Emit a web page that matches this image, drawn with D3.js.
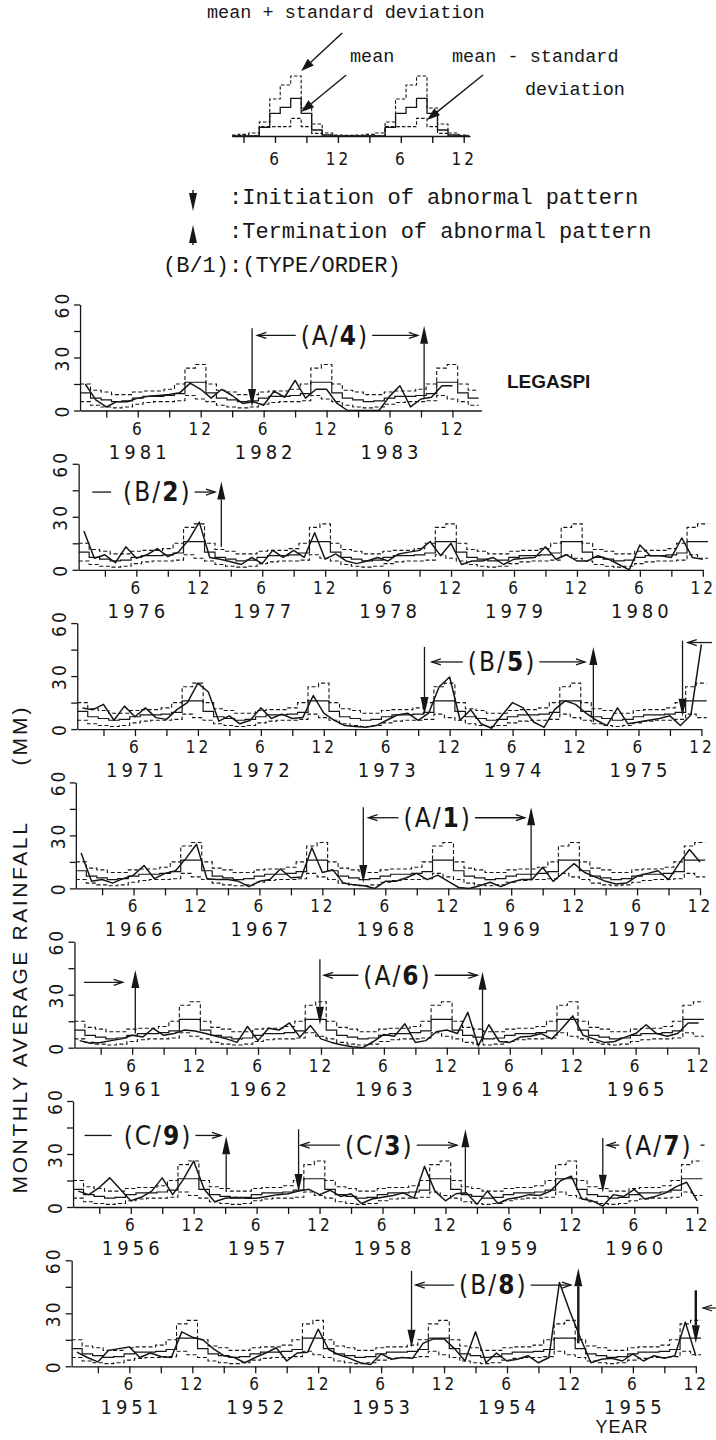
<!DOCTYPE html>
<html>
<head>
<meta charset="utf-8">
<script src="https://cdn.jsdelivr.net/npm/d3@7"></script>
<style>
  body { margin: 0; background: #fff; }
  svg { display: block; }
</style>
</head>
<body>
<script>
// monthly climatology (Jan..Dec), mm
var climMean  = [10, 7, 6, 5, 5.5, 7, 8, 8, 8.5, 9.5, 16, 16];
var climUpper = [15, 11.5, 10.5, 9, 9, 10.5, 11, 11, 12, 15, 24, 26];
var climLower = [5, 3, 2, 1.5, 2, 3.5, 4.5, 5, 5, 5.5, 8.5, 6.5];

// monthly rainfall, one array per strip
var rain1981 = [15, 6, 2, 5, 5, 7, 8, 8.5, 9, 10, 15.5, 12,
                7, 12, 8.5, 4, 5, 3, 11, 7.5, 17, 7, 12, 12,
                4, 0, 0, 0, 0, 8, 14, 2, 6.5, 7.5, 14, 14];
var rain1976 = [22, 6.5, 8.5, 4, 13, 6.5, 8.5, 12, 7.5, 10, 17, 27,
                7, 6, 4.5, 3, 7, 3.5, 11, 7, 11, 7, 21, 6,
                9, 5, 3.5, 5, 7, 5, 9, 10, 11, 16, 8, 15,
                3, 5, 5, 7, 3, 6, 6.5, 7, 13, 6, 8.5, 5,
                5, 8, 6, 3, 0, 14, 8, 8, 7, 18, 7, 6];
var rain1971 = [12, 11, 14, 5, 13, 7, 12, 6.5, 5.5, 11, 15, 26,
                21, 4.5, 7.5, 3, 5, 12, 6, 8.5, 6, 6.5, 19, 9,
                5, 2, 1.5, 1, 2, 5, 8, 9, 5, 9, 24, 29.5,
                5, 11, 3, 0.5, 8, 15, 12, 4, 1, 11, 16, 14,
                9, 5, 2, 12, 3, 4, 5, 6, 7.5, 2, 8, 48];
var rain1966 = [20, 4, 5, 3, 5.5, 7.5, 13, 5.5, 8.5, 10, 17, 25,
                5.5, 5, 5, 4, 1, 4, 5, 11, 6, 6.5, 23, 9,
                10.5, 3, 2, 1.5, 0, 4, 4, 6, 8.5, 5, 7.5, 4,
                0.5, 0, 1.5, 3.5, 1, 3.5, 5, 5, 12, 4, 9, 14,
                9, 6.5, 4, 2.5, 3, 7, 8.5, 10, 5, 14, 22, 15];
var rain1961 = [4, 2.5, 3, 4, 5, 7, 6, 11, 7, 8, 10, 9.5,
                8, 6.5, 5, 3, 12, 4, 11, 10, 14, 6, 12.5, 5,
                3, 1.5, 0.5, 0, 3.5, 7.5, 6.5, 13.5, 3, 4, 9, 10,
                8, 20, 1, 13, 3.5, 3, 6, 6.5, 8, 5, 11, 18,
                7, 5, 3, 3.5, 6, 8, 13, 8, 6.5, 8, 14, 14];
var rain1956 = [9, 7, 11, 16.5, 10, 3.5, 5.5, 9, 16.5, 7, 15.5, 26,
                10, 3, 5, 5.5, 5, 5, 6, 7, 7.5, 9, 10, 7,
                9.5, 6, 7.5, 2, 4.5, 5.5, 6.5, 8, 5, 23, 9, 3.5,
                7.5, 8, 1.5, 9, 2, 4.5, 5.5, 7, 6.5, 9, 15, 17.5,
                4.5, 3.5, 0.5, 7, 6, 10, 4.5, 6, 8, 11.5, 14, 3.5];
var rain1951 = [8, 5, 2.5, 9, 10, 11, 5, 7.5, 5.5, 5, 19.5, 16.5,
                15, 10, 6, 5, 2, 5, 7.5, 10.5, 3, 7.5, 8, 21,
                9.5, 6.5, 4.5, 2, 1, 7, 4, 5, 4.5, 13, 15.5, 15.5,
                10, 3, 19.5, 2, 7.5, 3, 4, 6, 2, 5, 47.5, 31,
                16, 2, 4, 4.5, 3, 7, 3, 6, 4.5, 6, 25, 6];

var stripYears = [1981, 1976, 1971, 1966, 1961, 1956, 1951];
var stripRain  = [rain1981, rain1976, rain1971, rain1966, rain1961, rain1956, rain1951];

// legend schematic (one season, months 1..12)
var legendUpper = [0.3, 0.5, 0.8, 1.5, 7, 18.5, 25.5, 30, 14, 6, 1.5, 0.5];
var legendMean  = [0, 0, 0, 0, 4.3, 11.3, 14.3, 18.8, 11.3, 3, 0.5, 0];
var legendLower = [0, 0, 0, 0, 4.7, 4.7, 4.7, 8.8, 4.7, 1.3, 0, 0];

// abnormal-pattern events: strip index, month (1 = Jan of first year), mm levels
var typeLabels = [
  {strip: 0, type: "A", order: 4, m: 24.8, v: 42.5, left: 17.4, right: 32.7, headL: true,  headR: true},
  {strip: 1, type: "B", order: 2, m: 8,    v: 44,   left: 1.8,  right: 13.5, headL: false, headR: true},
  {strip: 2, type: "B", order: 5, m: 41,   v: 38,   left: 34.3, right: 48.9, headL: true,  headR: true},
  {strip: 3, type: "A", order: 1, m: 35,   v: 40,   left: 28.4, right: 43.3, headL: true,  headR: true},
  {strip: 4, type: "A", order: 6, m: 31.3, v: 41,   left: 24.3, right: 38.9, headL: true,  headR: true},
  {strip: 5, type: "C", order: 9, m: 8.6,  v: 40.5, left: 1.6,  right: 14.6, headL: false, headR: true},
  {strip: 5, type: "C", order: 3, m: 29.7, v: 35,   left: 22.2, right: 37.1, headL: true,  headR: true},
  {strip: 5, type: "A", order: 7, m: 56.3, v: 35,   left: 51.4, right: 60.7, headL: true,  headR: false},
  {strip: 6, type: "B", order: 8, m: 40.7, v: 46,   left: 33.3, right: 48.1, headL: true,  headR: true}
];
var startArrows = [
  {strip: 0, m: 16.9, top: 46.5, tip: 2},
  {strip: 2, m: 33.6, top: 46.5, tip: 8},
  {strip: 2, m: 58.2, top: 50,   tip: 7},
  {strip: 3, m: 27.9, top: 46,   tip: 3},
  {strip: 4, m: 23.9, top: 50,   tip: 13},
  {strip: 5, m: 22.0, top: 44,   tip: 8.5},
  {strip: 5, m: 51.0, top: 39,   tip: 8},
  {strip: 6, m: 32.9, top: 54,   tip: 10.5},
  {strip: 6, m: 60.0, top: 43,   tip: 13, bold: true}
];
var endArrows = [
  {strip: 0, m: 33.3, base: 7,   tip: 48},
  {strip: 1, m: 14.1, base: 13,  tip: 50},
  {strip: 2, m: 49.7, base: 4,   tip: 46.5},
  {strip: 3, m: 43.9, base: 4.5, tip: 46},
  {strip: 4, m: 6.3,  base: 8,   tip: 44},
  {strip: 4, m: 39.4, base: 3,   tip: 43},
  {strip: 5, m: 15.1, base: 8.5, tip: 40},
  {strip: 5, m: 37.9, base: 8.5, tip: 44},
  {strip: 6, m: 48.8, base: 13,  tip: 55.5, bold: true}
];
var carryArrows = [
  {strip: 2, from: 61,   to: 58.7, v: 49},
  {strip: 4, from: 1.4,  to: 5.1,  v: 37},
  {strip: 6, from: 61.9, to: 60.7, v: 33}
];

var W = 716, H = 1440;
var ink = "#161616";
var monoFont = "'Liberation Mono','DejaVu Sans Mono',monospace";
var narrowFont = "'Liberation Sans Narrow','DejaVu Sans Condensed',sans-serif";
var sansFont = "'Liberation Sans',Arial,sans-serif";

var svg = d3.select("body").append("svg")
    .attr("width", W)
    .attr("height", H);

svg.append("rect").attr("width", W).attr("height", H).attr("fill", "#fff");

function vArrow(g, x, y0, y1, sw) {
  // y0 = tail, y1 = tip
  var dir = y1 > y0 ? 1 : -1, len = 18;
  g.append("line")
      .attr("x1", x).attr("x2", x)
      .attr("y1", y0).attr("y2", y1 - dir * len)
      .attr("stroke", ink).attr("stroke-width", sw || 1.3);
  g.append("path")
      .attr("d", "M" + x + "," + y1 + "L" + (x - 4) + "," + (y1 - dir * len) + "L" + (x + 4) + "," + (y1 - dir * len) + "Z")
      .attr("fill", ink);
}

function hArrow(g, xa, xb, yy, head) {
  g.append("line")
      .attr("x1", xa).attr("x2", xb)
      .attr("y1", yy).attr("y2", yy)
      .attr("stroke", ink).attr("stroke-width", 1.3);
  if (head) {
    var dir = xb > xa ? 1 : -1;
    g.append("polyline")
        .attr("points", [[xb - dir * 9, yy - 3], [xb, yy], [xb - dir * 9, yy + 3]].join(" "))
        .attr("fill", "none").attr("stroke", ink).attr("stroke-width", 1.3);
  }
}

function stepPoints(values, n, first) {
  var pts = [];
  for (var m = 1; m <= n; m++) pts.push([m === 1 ? first : m - 0.5, values[(m - 1) % 12]]);
  pts.push([n + 0.5, values[(n - 1) % 12]]);
  return pts;
}

// ---------- strips ----------
stripYears.forEach(function(year0, k) {
  var rain = stripRain[k];
  var base = 410.5 + k * 159.3;
  var left = 85.3 - 1.4 * k;
  var end = rain.length === 36 ? 38.75 : 60;
  var nClim = rain.length === 36 ? 38 : 60;

  var x = d3.scaleLinear().domain([0.5, end]).range([left - 5.25, left - 5.25 + (end - 0.5) * 10.49]);
  var y = d3.scaleLinear().domain([0, 60]).range([base, base - 106]);

  var g = svg.append("g");

  var line = d3.line().x(function(d) { return x(d[0]); }).y(function(d) { return y(d[1]); });
  var step = d3.line().x(function(d) { return x(d[0]); }).y(function(d) { return y(d[1]); }).curve(d3.curveStepAfter);

  [climUpper, climLower].forEach(function(c) {
    g.append("path")
        .attr("d", step(stepPoints(c, nClim, 0.5)))
        .attr("fill", "none").attr("stroke", ink)
        .attr("stroke-width", 1.1).attr("stroke-dasharray", "4,2.5");
  });
  g.append("path")
      .attr("d", step(stepPoints(climMean, nClim, 0.5)))
      .attr("fill", "none").attr("stroke", ink).attr("stroke-width", 1.2);

  g.append("path")
      .attr("d", line(rain.map(function(v, i) { return [i + 1, v]; })))
      .attr("fill", "none").attr("stroke", ink).attr("stroke-width", 1.5)
      .attr("stroke-linejoin", "round");

  // x axis
  var xAxis = d3.axisBottom(x)
      .tickValues(d3.range(3, end + 0.01, 3))
      .tickSizeInner(7).tickSizeOuter(0).tickPadding(5)
      .tickFormat(function(m) { return m % 12 === 6 ? "6" : (m % 12 === 0 ? "12" : ""); });
  var gx = g.append("g").attr("transform", "translate(0," + base + ")").call(xAxis);
  gx.selectAll("path, line").attr("stroke", ink).attr("stroke-width", 1.3);
  gx.selectAll("text")
      .attr("fill", ink)
      .style("font-family", narrowFont).style("font-size", "17px")
      .style("letter-spacing", "3px");

  // y axis
  var yAxis = d3.axisLeft(y).tickValues([0, 15, 30, 45, 60])
      .tickSizeInner(6).tickSizeOuter(0).tickFormat("");
  var gy = g.append("g").attr("transform", "translate(" + x(0.5) + ",0)").call(yAxis);
  gy.selectAll("path, line").attr("stroke", ink).attr("stroke-width", 1.3);

  [0, 30, 60].forEach(function(v) {
    g.append("text")
        .attr("transform", "translate(" + (x(0.5) - 18) + "," + y(v) + ") rotate(-90)")
        .attr("text-anchor", "middle").attr("dy", "0.35em")
        .attr("fill", ink)
        .style("font-family", narrowFont).style("font-size", "19px")
        .style("letter-spacing", "3px")
        .text(v);
  });

  // year labels
  d3.range(rain.length / 12).forEach(function(j) {
    g.append("text")
        .attr("x", x(j * 12 + 6) + 2).attr("y", base + 48)
        .attr("text-anchor", "middle").attr("fill", ink)
        .style("font-family", narrowFont).style("font-size", "20px")
        .style("letter-spacing", "4px")
        .text(year0 + j);
  });

  // annotations
  typeLabels.filter(function(d) { return d.strip === k; }).forEach(function(d) {
    var t = g.append("text")
        .attr("x", x(d.m)).attr("y", y(d.v)).attr("dy", "0.36em")
        .attr("text-anchor", "middle").attr("fill", ink)
        .style("font-family", narrowFont).style("font-size", "26px")
        .style("letter-spacing", "2px");
    t.append("tspan").text("(" + d.type + "/");
    t.append("tspan").style("font-weight", "bold").text(d.order);
    t.append("tspan").text(")");
    var bb = t.node().getBBox();
    hArrow(g, bb.x - (d.headL ? 5 : 12), x(d.left), y(d.v), d.headL);
    hArrow(g, bb.x + bb.width + (d.headR ? 3 : 8), x(d.right), y(d.v), d.headR);
  });
  startArrows.filter(function(d) { return d.strip === k; }).forEach(function(d) {
    vArrow(g, x(d.m), y(d.top), y(d.tip), d.bold ? 2.4 : 1.3);
  });
  endArrows.filter(function(d) { return d.strip === k; }).forEach(function(d) {
    vArrow(g, x(d.m), y(d.base), y(d.tip), d.bold ? 2.4 : 1.3);
  });
  carryArrows.filter(function(d) { return d.strip === k; }).forEach(function(d) {
    hArrow(g, x(d.from), x(d.to), y(d.v), true);
  });
});

// station name
svg.append("text")
    .attr("x", 507).attr("y", 388)
    .attr("fill", ink)
    .style("font-family", sansFont).style("font-size", "19px").style("font-weight", "bold")
    .text("LEGASPI");

// axis titles
svg.append("text")
    .attr("transform", "translate(20,1007) rotate(-90)")
    .attr("text-anchor", "middle").attr("dy", "0.35em").attr("fill", ink)
    .style("font-family", sansFont).style("font-size", "21px").style("letter-spacing", "2.6px")
    .text("MONTHLY AVERAGE RAINFALL");
svg.append("text")
    .attr("transform", "translate(20,735) rotate(-90)")
    .attr("text-anchor", "middle").attr("dy", "0.35em").attr("fill", ink)
    .style("font-family", sansFont).style("font-size", "21px").style("letter-spacing", "3px")
    .text("(MM)");
svg.append("text")
    .attr("x", 622).attr("y", 1433)
    .attr("text-anchor", "middle").attr("fill", ink)
    .style("font-family", sansFont).style("font-size", "18px").style("letter-spacing", "1px")
    .text("YEAR");

// ---------- legend ----------
var lg = svg.append("g");
var xm = d3.scaleLinear().domain([1.9, 24.6]).range([232, 470]);
var ym = d3.scaleLinear().domain([0, 30]).range([136, 76]);
var mStep = d3.line().x(function(d) { return xm(d[0]); }).y(function(d) { return ym(d[1]); }).curve(d3.curveStepAfter);

function legendPts(vals) {
  var pts = [];
  for (var m = 2; m <= 24; m++) pts.push([m === 2 ? 1.9 : m - 0.5, vals[(m - 1) % 12]]);
  pts.push([24.5, vals[11]]);
  return pts;
}
[legendUpper, legendLower].forEach(function(c) {
  lg.append("path").attr("d", mStep(legendPts(c)))
      .attr("fill", "none").attr("stroke", ink)
      .attr("stroke-width", 1.1).attr("stroke-dasharray", "3.5,2");
});
lg.append("path").attr("d", mStep(legendPts(legendMean)))
    .attr("fill", "none").attr("stroke", ink).attr("stroke-width", 1.3);

var mAxis = d3.axisBottom(xm).tickValues(d3.range(3, 25, 3))
    .tickSizeInner(7).tickSizeOuter(0).tickPadding(10)
    .tickFormat(function(m) { return m % 12 === 6 ? "6" : (m % 12 === 0 ? "12" : ""); });
var gm = lg.append("g").attr("transform", "translate(0,136)").call(mAxis);
gm.selectAll("path, line").attr("stroke", ink).attr("stroke-width", 1.4);
gm.selectAll("text").attr("fill", ink)
    .style("font-family", narrowFont).style("font-size", "17px").style("letter-spacing", "3px");

function pointer(x1, y1, dx, dy) {
  var ang = Math.atan2(-dy, -dx), len = 13, half = 4.5;
  var bx = x1 - Math.cos(ang) * len, by = y1 - Math.sin(ang) * len;
  lg.append("line").attr("x1", x1 + dx).attr("y1", y1 + dy).attr("x2", bx).attr("y2", by)
      .attr("stroke", ink).attr("stroke-width", 1.4);
  lg.append("path")
      .attr("d", "M" + x1 + "," + y1 +
                 "L" + (bx - Math.sin(ang) * half) + "," + (by + Math.cos(ang) * half) +
                 "L" + (bx + Math.sin(ang) * half) + "," + (by - Math.cos(ang) * half) + "Z")
      .attr("fill", ink);
}
pointer(xm(8.5), ym(30) - 5, 41, -38);
pointer(xm(8.5), ym(12), 45, -37);
pointer(xm(20.5), ym(8), 56, -45);

function mono(x, yy, size, txt) {
  lg.append("text").attr("x", x).attr("y", yy).attr("fill", ink)
      .style("font-family", monoFont).style("font-size", size + "px")
      .style("white-space", "pre")
      .text(txt);
}
mono(207, 18, 18.5, "mean + standard deviation");
mono(350, 62, 18.5, "mean");
mono(452, 62, 18.5, "mean - standard");
mono(525, 95, 18.5, "deviation");

vArrow(lg, 193, 190, 211, 1.4);
vArrow(lg, 193, 245, 225, 1.4);
mono(229, 204, 22, ":Initiation of abnormal pattern");
mono(229, 238, 22, ":Termination of abnormal pattern");
mono(163, 272, 22, "(B/1):(TYPE/ORDER)");
</script>
</body>
</html>
